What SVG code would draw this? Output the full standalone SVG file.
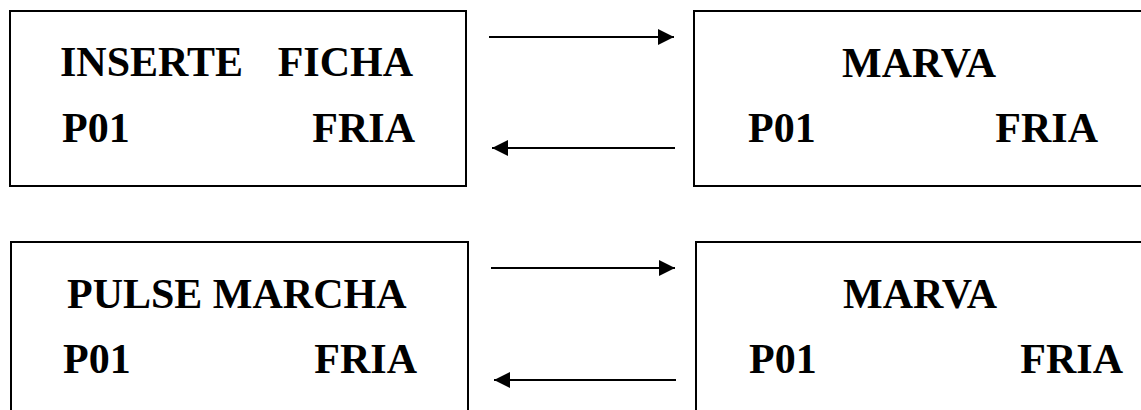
<svg xmlns="http://www.w3.org/2000/svg" width="1141" height="410" viewBox="0 0 1141 410">
<style>
.box{fill:#fff;stroke:#000;stroke-width:2}
.t{font-family:"Liberation Serif","Times New Roman",serif;font-weight:bold;font-size:42px;fill:#000}
.c{stroke:#000;stroke-width:2;fill:none}
</style>
<defs>
<marker id="ah" markerUnits="userSpaceOnUse" markerWidth="16" markerHeight="16" refX="16" refY="8" orient="auto">
<path d="M0,0 L16,8 L0,16 Z" fill="#000"/>
</marker>
</defs>
<rect width="1141" height="410" fill="#fff"/>
<g id="node-inserte">
<rect class="box" x="10" y="11" width="456" height="175"/>
<text class="t" x="60" y="76">INSERTE</text>
<text class="t" x="413" y="76" text-anchor="end">FICHA</text>
<text class="t" x="62" y="142">P01</text>
<text class="t" x="415" y="142" text-anchor="end">FRIA</text>
</g>
<g id="node-marva1">
<rect class="box" x="694" y="11" width="460" height="175"/>
<text class="t" x="842" y="77">MARVA</text>
<text class="t" x="748" y="142">P01</text>
<text class="t" x="1098" y="142" text-anchor="end">FRIA</text>
</g>
<g id="node-pulse">
<rect class="box" x="11" y="242" width="457" height="190"/>
<text class="t" x="67" y="308">PULSE MARCHA</text>
<text class="t" x="63" y="373">P01</text>
<text class="t" x="417" y="373" text-anchor="end">FRIA</text>
</g>
<g id="node-marva2">
<rect class="box" x="696" y="242" width="460" height="190"/>
<text class="t" x="843" y="308">MARVA</text>
<text class="t" x="749" y="373">P01</text>
<text class="t" x="1123" y="373" text-anchor="end">FRIA</text>
</g>
<g id="connectors">
<line class="c" x1="489" y1="37" x2="674" y2="37" marker-end="url(#ah)"/>
<line class="c" x1="675" y1="148" x2="492" y2="148" marker-end="url(#ah)"/>
<line class="c" x1="491" y1="268" x2="675" y2="268" marker-end="url(#ah)"/>
<line class="c" x1="676" y1="380" x2="494" y2="380" marker-end="url(#ah)"/>
</g>
</svg>
